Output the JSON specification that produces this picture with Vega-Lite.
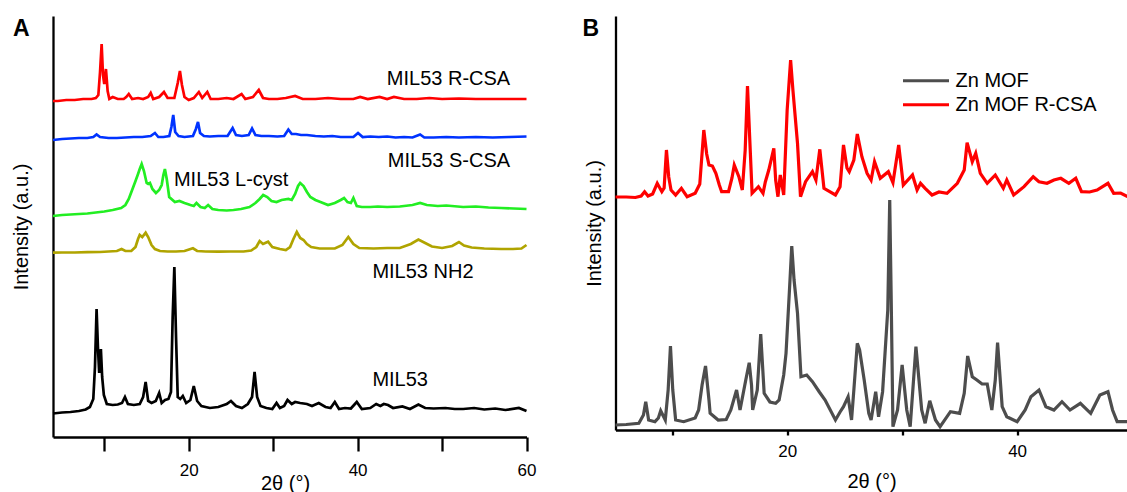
{
"$schema": "https://vega.github.io/schema/vega-lite/v6.json",
"padding": {"left": 11, "top": 16, "right": 0, "bottom": 0},
"background": "white",
"bounds": "flush",
"spacing": 88.5,
"resolve": {"scale": {"color": "independent", "x": "independent", "y": "independent"}, "legend": {"color": "independent"}},
"config": {"font": "Liberation Sans", "view": {"stroke": null},
  "axis": {"grid": false, "domainColor": "black", "domainWidth": 2.3, "tickColor": "black", "tickWidth": 2.3, "labelColor": "black", "titleColor": "black", "labelFont": "Liberation Sans", "titleFont": "Liberation Sans", "titleFontWeight": "normal", "labelFontSize": 17, "titleFontSize": 20}},
"datasets": {
"a": [
{"s":"MIL53 R-CSA","x":3.93,"y":336},{"s":"MIL53 R-CSA","x":4.5,"y":336},{"s":"MIL53 R-CSA","x":5.5,"y":337},{"s":"MIL53 R-CSA","x":6.5,"y":337},{"s":"MIL53 R-CSA","x":7.5,"y":338},{"s":"MIL53 R-CSA","x":8.5,"y":338},{"s":"MIL53 R-CSA","x":9.0,"y":339},{"s":"MIL53 R-CSA","x":9.3,"y":342},{"s":"MIL53 R-CSA","x":9.5,"y":365},{"s":"MIL53 R-CSA","x":9.69,"y":393},{"s":"MIL53 R-CSA","x":9.85,"y":362},{"s":"MIL53 R-CSA","x":10.0,"y":353},{"s":"MIL53 R-CSA","x":10.2,"y":368},{"s":"MIL53 R-CSA","x":10.4,"y":346},{"s":"MIL53 R-CSA","x":10.6,"y":338},{"s":"MIL53 R-CSA","x":11.0,"y":340},{"s":"MIL53 R-CSA","x":11.6,"y":338},{"s":"MIL53 R-CSA","x":12.3,"y":338},{"s":"MIL53 R-CSA","x":12.6,"y":340},{"s":"MIL53 R-CSA","x":12.9,"y":343},{"s":"MIL53 R-CSA","x":13.3,"y":338},{"s":"MIL53 R-CSA","x":14.0,"y":339},{"s":"MIL53 R-CSA","x":14.6,"y":338},{"s":"MIL53 R-CSA","x":15.2,"y":340},{"s":"MIL53 R-CSA","x":15.5,"y":344},{"s":"MIL53 R-CSA","x":15.8,"y":338},{"s":"MIL53 R-CSA","x":16.5,"y":340},{"s":"MIL53 R-CSA","x":17.07,"y":345},{"s":"MIL53 R-CSA","x":17.5,"y":339},{"s":"MIL53 R-CSA","x":18.3,"y":339},{"s":"MIL53 R-CSA","x":18.7,"y":354},{"s":"MIL53 R-CSA","x":18.96,"y":366},{"s":"MIL53 R-CSA","x":19.2,"y":352},{"s":"MIL53 R-CSA","x":19.5,"y":340},{"s":"MIL53 R-CSA","x":20.0,"y":337},{"s":"MIL53 R-CSA","x":20.6,"y":339},{"s":"MIL53 R-CSA","x":21.2,"y":345},{"s":"MIL53 R-CSA","x":21.6,"y":339},{"s":"MIL53 R-CSA","x":22.2,"y":345},{"s":"MIL53 R-CSA","x":22.6,"y":338},{"s":"MIL53 R-CSA","x":23.5,"y":338},{"s":"MIL53 R-CSA","x":24.5,"y":339},{"s":"MIL53 R-CSA","x":25.3,"y":338},{"s":"MIL53 R-CSA","x":26.26,"y":343},{"s":"MIL53 R-CSA","x":26.7,"y":338},{"s":"MIL53 R-CSA","x":27.6,"y":340},{"s":"MIL53 R-CSA","x":28.3,"y":347},{"s":"MIL53 R-CSA","x":28.8,"y":339},{"s":"MIL53 R-CSA","x":29.5,"y":338},{"s":"MIL53 R-CSA","x":30.5,"y":338},{"s":"MIL53 R-CSA","x":31.5,"y":339},{"s":"MIL53 R-CSA","x":32.6,"y":341},{"s":"MIL53 R-CSA","x":33.5,"y":338},{"s":"MIL53 R-CSA","x":35,"y":338},{"s":"MIL53 R-CSA","x":36.5,"y":339},{"s":"MIL53 R-CSA","x":38,"y":338},{"s":"MIL53 R-CSA","x":39.5,"y":338},{"s":"MIL53 R-CSA","x":40.3,"y":340},{"s":"MIL53 R-CSA","x":41.2,"y":338},{"s":"MIL53 R-CSA","x":42.6,"y":340},{"s":"MIL53 R-CSA","x":43.5,"y":338},{"s":"MIL53 R-CSA","x":44.3,"y":340},{"s":"MIL53 R-CSA","x":45.5,"y":338},{"s":"MIL53 R-CSA","x":47,"y":338},{"s":"MIL53 R-CSA","x":48.5,"y":339},{"s":"MIL53 R-CSA","x":50,"y":338},{"s":"MIL53 R-CSA","x":52,"y":338.5},{"s":"MIL53 R-CSA","x":54,"y":338},{"s":"MIL53 R-CSA","x":56,"y":338},{"s":"MIL53 R-CSA","x":58,"y":338},{"s":"MIL53 R-CSA","x":60,"y":338},
{"s":"MIL53 S-CSA","x":3.93,"y":297},{"s":"MIL53 S-CSA","x":5,"y":298},{"s":"MIL53 S-CSA","x":6,"y":298.5},{"s":"MIL53 S-CSA","x":7,"y":299},{"s":"MIL53 S-CSA","x":8,"y":299},{"s":"MIL53 S-CSA","x":8.7,"y":300},{"s":"MIL53 S-CSA","x":9.09,"y":302.5},{"s":"MIL53 S-CSA","x":9.5,"y":300},{"s":"MIL53 S-CSA","x":10.5,"y":299},{"s":"MIL53 S-CSA","x":11.5,"y":299},{"s":"MIL53 S-CSA","x":12.5,"y":299.5},{"s":"MIL53 S-CSA","x":13.5,"y":300},{"s":"MIL53 S-CSA","x":14.5,"y":300},{"s":"MIL53 S-CSA","x":15.5,"y":301},{"s":"MIL53 S-CSA","x":16.0,"y":304},{"s":"MIL53 S-CSA","x":16.4,"y":300},{"s":"MIL53 S-CSA","x":17.0,"y":300},{"s":"MIL53 S-CSA","x":17.7,"y":301},{"s":"MIL53 S-CSA","x":17.95,"y":310},{"s":"MIL53 S-CSA","x":18.17,"y":322},{"s":"MIL53 S-CSA","x":18.4,"y":305},{"s":"MIL53 S-CSA","x":18.8,"y":301},{"s":"MIL53 S-CSA","x":19.5,"y":300},{"s":"MIL53 S-CSA","x":20.5,"y":301},{"s":"MIL53 S-CSA","x":20.85,"y":308},{"s":"MIL53 S-CSA","x":21.1,"y":315},{"s":"MIL53 S-CSA","x":21.35,"y":304},{"s":"MIL53 S-CSA","x":21.8,"y":301},{"s":"MIL53 S-CSA","x":22.5,"y":300.5},{"s":"MIL53 S-CSA","x":23.5,"y":301},{"s":"MIL53 S-CSA","x":24.6,"y":301},{"s":"MIL53 S-CSA","x":25.2,"y":309},{"s":"MIL53 S-CSA","x":25.6,"y":302},{"s":"MIL53 S-CSA","x":26.3,"y":301},{"s":"MIL53 S-CSA","x":27.1,"y":302},{"s":"MIL53 S-CSA","x":27.5,"y":308.5},{"s":"MIL53 S-CSA","x":27.9,"y":302},{"s":"MIL53 S-CSA","x":28.6,"y":301},{"s":"MIL53 S-CSA","x":29.5,"y":301},{"s":"MIL53 S-CSA","x":30.5,"y":300.5},{"s":"MIL53 S-CSA","x":31.3,"y":301},{"s":"MIL53 S-CSA","x":31.8,"y":307.5},{"s":"MIL53 S-CSA","x":32.2,"y":303},{"s":"MIL53 S-CSA","x":32.7,"y":303},{"s":"MIL53 S-CSA","x":33.3,"y":302},{"s":"MIL53 S-CSA","x":34,"y":302},{"s":"MIL53 S-CSA","x":35,"y":301},{"s":"MIL53 S-CSA","x":36,"y":300.5},{"s":"MIL53 S-CSA","x":37,"y":301},{"s":"MIL53 S-CSA","x":38,"y":300},{"s":"MIL53 S-CSA","x":39.5,"y":300},{"s":"MIL53 S-CSA","x":40.05,"y":304},{"s":"MIL53 S-CSA","x":40.6,"y":300},{"s":"MIL53 S-CSA","x":41.5,"y":300.5},{"s":"MIL53 S-CSA","x":42.5,"y":300},{"s":"MIL53 S-CSA","x":43.5,"y":300.5},{"s":"MIL53 S-CSA","x":44.5,"y":299.5},{"s":"MIL53 S-CSA","x":45.5,"y":300},{"s":"MIL53 S-CSA","x":46.5,"y":299.5},{"s":"MIL53 S-CSA","x":47.4,"y":302.5},{"s":"MIL53 S-CSA","x":47.9,"y":299.5},{"s":"MIL53 S-CSA","x":49,"y":299.5},{"s":"MIL53 S-CSA","x":50.5,"y":300},{"s":"MIL53 S-CSA","x":52,"y":299.5},{"s":"MIL53 S-CSA","x":54,"y":300},{"s":"MIL53 S-CSA","x":56,"y":299.5},{"s":"MIL53 S-CSA","x":58,"y":300},{"s":"MIL53 S-CSA","x":60,"y":300.5},
{"s":"MIL53 L-cyst","x":3.93,"y":221},{"s":"MIL53 L-cyst","x":5,"y":222},{"s":"MIL53 L-cyst","x":6,"y":222.5},{"s":"MIL53 L-cyst","x":7,"y":223},{"s":"MIL53 L-cyst","x":8,"y":223.5},{"s":"MIL53 L-cyst","x":9,"y":224.5},{"s":"MIL53 L-cyst","x":10,"y":225.5},{"s":"MIL53 L-cyst","x":11,"y":227},{"s":"MIL53 L-cyst","x":12,"y":229},{"s":"MIL53 L-cyst","x":12.5,"y":232},{"s":"MIL53 L-cyst","x":12.9,"y":238},{"s":"MIL53 L-cyst","x":13.3,"y":247},{"s":"MIL53 L-cyst","x":13.7,"y":256},{"s":"MIL53 L-cyst","x":14.0,"y":263},{"s":"MIL53 L-cyst","x":14.2,"y":268},{"s":"MIL53 L-cyst","x":14.43,"y":273},{"s":"MIL53 L-cyst","x":14.7,"y":266},{"s":"MIL53 L-cyst","x":15.02,"y":254},{"s":"MIL53 L-cyst","x":15.2,"y":253},{"s":"MIL53 L-cyst","x":15.41,"y":254},{"s":"MIL53 L-cyst","x":15.7,"y":248},{"s":"MIL53 L-cyst","x":16.12,"y":244},{"s":"MIL53 L-cyst","x":16.5,"y":247},{"s":"MIL53 L-cyst","x":16.8,"y":252},{"s":"MIL53 L-cyst","x":17.0,"y":262},{"s":"MIL53 L-cyst","x":17.18,"y":268},{"s":"MIL53 L-cyst","x":17.4,"y":258},{"s":"MIL53 L-cyst","x":17.69,"y":240},{"s":"MIL53 L-cyst","x":18.36,"y":235},{"s":"MIL53 L-cyst","x":18.9,"y":236},{"s":"MIL53 L-cyst","x":19.5,"y":234},{"s":"MIL53 L-cyst","x":20.2,"y":232},{"s":"MIL53 L-cyst","x":20.6,"y":231},{"s":"MIL53 L-cyst","x":20.92,"y":234},{"s":"MIL53 L-cyst","x":21.4,"y":230},{"s":"MIL53 L-cyst","x":21.9,"y":229},{"s":"MIL53 L-cyst","x":22.3,"y":232},{"s":"MIL53 L-cyst","x":22.8,"y":228},{"s":"MIL53 L-cyst","x":23.5,"y":227},{"s":"MIL53 L-cyst","x":24.5,"y":226.5},{"s":"MIL53 L-cyst","x":25.3,"y":227},{"s":"MIL53 L-cyst","x":26.2,"y":228},{"s":"MIL53 L-cyst","x":27.2,"y":230},{"s":"MIL53 L-cyst","x":27.9,"y":234},{"s":"MIL53 L-cyst","x":28.4,"y":238},{"s":"MIL53 L-cyst","x":28.82,"y":242},{"s":"MIL53 L-cyst","x":29.3,"y":240},{"s":"MIL53 L-cyst","x":29.8,"y":236},{"s":"MIL53 L-cyst","x":30.4,"y":235},{"s":"MIL53 L-cyst","x":31.0,"y":237},{"s":"MIL53 L-cyst","x":31.8,"y":238},{"s":"MIL53 L-cyst","x":32.2,"y":237},{"s":"MIL53 L-cyst","x":32.6,"y":243},{"s":"MIL53 L-cyst","x":32.95,"y":251},{"s":"MIL53 L-cyst","x":33.2,"y":254},{"s":"MIL53 L-cyst","x":33.6,"y":251},{"s":"MIL53 L-cyst","x":34.0,"y":245},{"s":"MIL53 L-cyst","x":34.4,"y":240},{"s":"MIL53 L-cyst","x":35.0,"y":237},{"s":"MIL53 L-cyst","x":35.6,"y":235},{"s":"MIL53 L-cyst","x":36.5,"y":232},{"s":"MIL53 L-cyst","x":37.3,"y":234},{"s":"MIL53 L-cyst","x":38.0,"y":237},{"s":"MIL53 L-cyst","x":38.4,"y":239},{"s":"MIL53 L-cyst","x":38.8,"y":235},{"s":"MIL53 L-cyst","x":39.2,"y":234},{"s":"MIL53 L-cyst","x":39.5,"y":239},{"s":"MIL53 L-cyst","x":39.9,"y":231},{"s":"MIL53 L-cyst","x":40.5,"y":230},{"s":"MIL53 L-cyst","x":41.5,"y":230},{"s":"MIL53 L-cyst","x":42.4,"y":230.5},{"s":"MIL53 L-cyst","x":43.5,"y":230},{"s":"MIL53 L-cyst","x":45,"y":230.5},{"s":"MIL53 L-cyst","x":46.5,"y":232},{"s":"MIL53 L-cyst","x":47.4,"y":234},{"s":"MIL53 L-cyst","x":48.2,"y":232},{"s":"MIL53 L-cyst","x":49.5,"y":231},{"s":"MIL53 L-cyst","x":50.5,"y":231.5},{"s":"MIL53 L-cyst","x":52.5,"y":230},{"s":"MIL53 L-cyst","x":54,"y":230.5},{"s":"MIL53 L-cyst","x":55.5,"y":229.5},{"s":"MIL53 L-cyst","x":57,"y":229},{"s":"MIL53 L-cyst","x":58.5,"y":228.5},{"s":"MIL53 L-cyst","x":60,"y":228},
{"s":"MIL53 NH2","x":3.93,"y":184.3},{"s":"MIL53 NH2","x":5,"y":184.5},{"s":"MIL53 NH2","x":6.5,"y":184.5},{"s":"MIL53 NH2","x":8,"y":184.8},{"s":"MIL53 NH2","x":9.5,"y":185},{"s":"MIL53 NH2","x":10.5,"y":185.5},{"s":"MIL53 NH2","x":11.5,"y":186},{"s":"MIL53 NH2","x":12.05,"y":188},{"s":"MIL53 NH2","x":12.5,"y":186},{"s":"MIL53 NH2","x":13.2,"y":186},{"s":"MIL53 NH2","x":13.7,"y":190},{"s":"MIL53 NH2","x":14.0,"y":198},{"s":"MIL53 NH2","x":14.2,"y":202},{"s":"MIL53 NH2","x":14.5,"y":200},{"s":"MIL53 NH2","x":14.9,"y":204.3},{"s":"MIL53 NH2","x":15.2,"y":200},{"s":"MIL53 NH2","x":15.6,"y":192},{"s":"MIL53 NH2","x":16.0,"y":188},{"s":"MIL53 NH2","x":16.6,"y":186},{"s":"MIL53 NH2","x":17.5,"y":185.5},{"s":"MIL53 NH2","x":18.5,"y":185.5},{"s":"MIL53 NH2","x":19.5,"y":186},{"s":"MIL53 NH2","x":20.5,"y":188.7},{"s":"MIL53 NH2","x":21.0,"y":186},{"s":"MIL53 NH2","x":22,"y":185.5},{"s":"MIL53 NH2","x":23.5,"y":185.3},{"s":"MIL53 NH2","x":25,"y":185.5},{"s":"MIL53 NH2","x":26.5,"y":185.5},{"s":"MIL53 NH2","x":27.4,"y":186.5},{"s":"MIL53 NH2","x":28.0,"y":190},{"s":"MIL53 NH2","x":28.4,"y":196},{"s":"MIL53 NH2","x":28.8,"y":193},{"s":"MIL53 NH2","x":29.4,"y":195.3},{"s":"MIL53 NH2","x":29.9,"y":190},{"s":"MIL53 NH2","x":30.8,"y":188},{"s":"MIL53 NH2","x":31.5,"y":187},{"s":"MIL53 NH2","x":32.0,"y":190},{"s":"MIL53 NH2","x":32.4,"y":198},{"s":"MIL53 NH2","x":32.8,"y":205},{"s":"MIL53 NH2","x":33.2,"y":199},{"s":"MIL53 NH2","x":33.6,"y":197},{"s":"MIL53 NH2","x":34.0,"y":193},{"s":"MIL53 NH2","x":34.5,"y":190},{"s":"MIL53 NH2","x":35.5,"y":188.5},{"s":"MIL53 NH2","x":37.3,"y":188.5},{"s":"MIL53 NH2","x":38.2,"y":192},{"s":"MIL53 NH2","x":38.9,"y":200},{"s":"MIL53 NH2","x":39.5,"y":193},{"s":"MIL53 NH2","x":40.2,"y":189},{"s":"MIL53 NH2","x":41.9,"y":188.5},{"s":"MIL53 NH2","x":43.5,"y":189},{"s":"MIL53 NH2","x":45,"y":189},{"s":"MIL53 NH2","x":46.3,"y":193},{"s":"MIL53 NH2","x":47.2,"y":197.5},{"s":"MIL53 NH2","x":48,"y":194},{"s":"MIL53 NH2","x":48.8,"y":190.5},{"s":"MIL53 NH2","x":50,"y":189},{"s":"MIL53 NH2","x":51.2,"y":191},{"s":"MIL53 NH2","x":52.0,"y":195},{"s":"MIL53 NH2","x":52.6,"y":191.5},{"s":"MIL53 NH2","x":53.5,"y":189.5},{"s":"MIL53 NH2","x":55,"y":188.5},{"s":"MIL53 NH2","x":57,"y":188},{"s":"MIL53 NH2","x":58.4,"y":188},{"s":"MIL53 NH2","x":59.4,"y":188.5},{"s":"MIL53 NH2","x":60,"y":192},
{"s":"MIL53","x":3.93,"y":23.5},{"s":"MIL53","x":5,"y":24.5},{"s":"MIL53","x":6,"y":25},{"s":"MIL53","x":7,"y":26},{"s":"MIL53","x":7.8,"y":27.5},{"s":"MIL53","x":8.3,"y":30},{"s":"MIL53","x":8.7,"y":38},{"s":"MIL53","x":8.9,"y":70},{"s":"MIL53","x":9.09,"y":128},{"s":"MIL53","x":9.25,"y":90},{"s":"MIL53","x":9.4,"y":64},{"s":"MIL53","x":9.6,"y":88},{"s":"MIL53","x":9.75,"y":60},{"s":"MIL53","x":9.95,"y":42},{"s":"MIL53","x":10.3,"y":33},{"s":"MIL53","x":11.0,"y":32},{"s":"MIL53","x":11.6,"y":32.5},{"s":"MIL53","x":12.1,"y":34},{"s":"MIL53","x":12.45,"y":40},{"s":"MIL53","x":12.8,"y":33},{"s":"MIL53","x":13.5,"y":32},{"s":"MIL53","x":14.2,"y":33},{"s":"MIL53","x":14.6,"y":40},{"s":"MIL53","x":14.9,"y":55},{"s":"MIL53","x":15.2,"y":36},{"s":"MIL53","x":15.6,"y":34},{"s":"MIL53","x":16.1,"y":36},{"s":"MIL53","x":16.5,"y":44},{"s":"MIL53","x":16.8,"y":34},{"s":"MIL53","x":17.2,"y":37},{"s":"MIL53","x":17.6,"y":38},{"s":"MIL53","x":17.9,"y":45},{"s":"MIL53","x":18.1,"y":120},{"s":"MIL53","x":18.3,"y":170},{"s":"MIL53","x":18.5,"y":100},{"s":"MIL53","x":18.7,"y":40},{"s":"MIL53","x":19.0,"y":38},{"s":"MIL53","x":19.3,"y":41},{"s":"MIL53","x":19.7,"y":34},{"s":"MIL53","x":20.2,"y":37},{"s":"MIL53","x":20.6,"y":51},{"s":"MIL53","x":21.0,"y":36},{"s":"MIL53","x":21.5,"y":31},{"s":"MIL53","x":22.5,"y":29},{"s":"MIL53","x":23.5,"y":30},{"s":"MIL53","x":24.5,"y":33},{"s":"MIL53","x":25.0,"y":36},{"s":"MIL53","x":25.6,"y":31},{"s":"MIL53","x":26.3,"y":29},{"s":"MIL53","x":27.0,"y":33},{"s":"MIL53","x":27.5,"y":40},{"s":"MIL53","x":27.8,"y":65},{"s":"MIL53","x":28.1,"y":40},{"s":"MIL53","x":28.5,"y":31},{"s":"MIL53","x":29.2,"y":29},{"s":"MIL53","x":29.9,"y":28},{"s":"MIL53","x":30.4,"y":34},{"s":"MIL53","x":30.8,"y":29},{"s":"MIL53","x":31.3,"y":31},{"s":"MIL53","x":31.7,"y":37},{"s":"MIL53","x":32.2,"y":33},{"s":"MIL53","x":32.6,"y":35},{"s":"MIL53","x":33.2,"y":34},{"s":"MIL53","x":34,"y":33},{"s":"MIL53","x":34.6,"y":31},{"s":"MIL53","x":35.4,"y":34},{"s":"MIL53","x":36.2,"y":30},{"s":"MIL53","x":36.8,"y":29},{"s":"MIL53","x":37.3,"y":35},{"s":"MIL53","x":37.8,"y":28},{"s":"MIL53","x":38.5,"y":29},{"s":"MIL53","x":39.2,"y":28.5},{"s":"MIL53","x":39.9,"y":35},{"s":"MIL53","x":40.5,"y":28},{"s":"MIL53","x":41.5,"y":29},{"s":"MIL53","x":42.2,"y":33},{"s":"MIL53","x":42.7,"y":31},{"s":"MIL53","x":43.1,"y":33},{"s":"MIL53","x":43.6,"y":32},{"s":"MIL53","x":44.2,"y":29},{"s":"MIL53","x":45.3,"y":30.5},{"s":"MIL53","x":46.2,"y":28},{"s":"MIL53","x":47.2,"y":32.5},{"s":"MIL53","x":48,"y":29},{"s":"MIL53","x":49,"y":28.5},{"s":"MIL53","x":50.4,"y":29},{"s":"MIL53","x":51.5,"y":28},{"s":"MIL53","x":52.5,"y":28},{"s":"MIL53","x":53.8,"y":29},{"s":"MIL53","x":55,"y":27.5},{"s":"MIL53","x":56.3,"y":28.5},{"s":"MIL53","x":57.5,"y":27},{"s":"MIL53","x":59.1,"y":29},{"s":"MIL53","x":60,"y":26}
],
"b": [
{"s":"Zn MOF R-CSA","x":5.07,"y":233},{"s":"Zn MOF R-CSA","x":6.0,"y":233},{"s":"Zn MOF R-CSA","x":6.8,"y":232.5},{"s":"Zn MOF R-CSA","x":7.3,"y":234},{"s":"Zn MOF R-CSA","x":7.6,"y":238.3},{"s":"Zn MOF R-CSA","x":7.9,"y":234},{"s":"Zn MOF R-CSA","x":8.3,"y":236},{"s":"Zn MOF R-CSA","x":8.7,"y":246.7},{"s":"Zn MOF R-CSA","x":9.1,"y":238.3},{"s":"Zn MOF R-CSA","x":9.3,"y":242},{"s":"Zn MOF R-CSA","x":9.5,"y":280},{"s":"Zn MOF R-CSA","x":9.7,"y":253},{"s":"Zn MOF R-CSA","x":9.9,"y":240},{"s":"Zn MOF R-CSA","x":10.3,"y":235},{"s":"Zn MOF R-CSA","x":10.8,"y":241.7},{"s":"Zn MOF R-CSA","x":11.3,"y":233.3},{"s":"Zn MOF R-CSA","x":12.0,"y":236.7},{"s":"Zn MOF R-CSA","x":12.4,"y":246},{"s":"Zn MOF R-CSA","x":12.75,"y":300},{"s":"Zn MOF R-CSA","x":13.0,"y":276},{"s":"Zn MOF R-CSA","x":13.2,"y":265},{"s":"Zn MOF R-CSA","x":13.5,"y":264},{"s":"Zn MOF R-CSA","x":13.8,"y":256.7},{"s":"Zn MOF R-CSA","x":14.1,"y":245},{"s":"Zn MOF R-CSA","x":14.3,"y":238.3},{"s":"Zn MOF R-CSA","x":14.9,"y":238.3},{"s":"Zn MOF R-CSA","x":15.2,"y":252},{"s":"Zn MOF R-CSA","x":15.4,"y":265},{"s":"Zn MOF R-CSA","x":15.8,"y":253.3},{"s":"Zn MOF R-CSA","x":16.1,"y":240},{"s":"Zn MOF R-CSA","x":16.35,"y":280},{"s":"Zn MOF R-CSA","x":16.55,"y":344},{"s":"Zn MOF R-CSA","x":16.75,"y":290},{"s":"Zn MOF R-CSA","x":16.95,"y":236.7},{"s":"Zn MOF R-CSA","x":17.5,"y":243.3},{"s":"Zn MOF R-CSA","x":17.9,"y":236.7},{"s":"Zn MOF R-CSA","x":18.1,"y":248},{"s":"Zn MOF R-CSA","x":18.4,"y":260},{"s":"Zn MOF R-CSA","x":18.84,"y":281.7},{"s":"Zn MOF R-CSA","x":19.0,"y":250},{"s":"Zn MOF R-CSA","x":19.2,"y":233.3},{"s":"Zn MOF R-CSA","x":19.4,"y":255},{"s":"Zn MOF R-CSA","x":19.7,"y":235},{"s":"Zn MOF R-CSA","x":20.0,"y":320},{"s":"Zn MOF R-CSA","x":20.3,"y":370},{"s":"Zn MOF R-CSA","x":20.5,"y":340},{"s":"Zn MOF R-CSA","x":20.9,"y":286.7},{"s":"Zn MOF R-CSA","x":21.16,"y":233.3},{"s":"Zn MOF R-CSA","x":21.6,"y":248.3},{"s":"Zn MOF R-CSA","x":22.2,"y":258.3},{"s":"Zn MOF R-CSA","x":22.5,"y":250},{"s":"Zn MOF R-CSA","x":22.84,"y":280.7},{"s":"Zn MOF R-CSA","x":23.2,"y":241.7},{"s":"Zn MOF R-CSA","x":23.7,"y":238.3},{"s":"Zn MOF R-CSA","x":24.2,"y":235},{"s":"Zn MOF R-CSA","x":24.6,"y":243.3},{"s":"Zn MOF R-CSA","x":24.9,"y":285},{"s":"Zn MOF R-CSA","x":25.2,"y":262},{"s":"Zn MOF R-CSA","x":25.4,"y":258.3},{"s":"Zn MOF R-CSA","x":25.8,"y":270},{"s":"Zn MOF R-CSA","x":26.1,"y":296},{"s":"Zn MOF R-CSA","x":26.5,"y":273.3},{"s":"Zn MOF R-CSA","x":26.95,"y":256.7},{"s":"Zn MOF R-CSA","x":27.3,"y":250},{"s":"Zn MOF R-CSA","x":27.6,"y":268.3},{"s":"Zn MOF R-CSA","x":28.1,"y":251.7},{"s":"Zn MOF R-CSA","x":28.8,"y":258.3},{"s":"Zn MOF R-CSA","x":29.2,"y":247.3},{"s":"Zn MOF R-CSA","x":29.7,"y":285},{"s":"Zn MOF R-CSA","x":30.1,"y":245},{"s":"Zn MOF R-CSA","x":30.9,"y":255},{"s":"Zn MOF R-CSA","x":31.3,"y":240},{"s":"Zn MOF R-CSA","x":31.6,"y":246.7},{"s":"Zn MOF R-CSA","x":32.0,"y":241.7},{"s":"Zn MOF R-CSA","x":32.6,"y":235},{"s":"Zn MOF R-CSA","x":33.2,"y":238},{"s":"Zn MOF R-CSA","x":33.9,"y":236.7},{"s":"Zn MOF R-CSA","x":34.8,"y":246.7},{"s":"Zn MOF R-CSA","x":35.4,"y":260},{"s":"Zn MOF R-CSA","x":35.65,"y":287.3},{"s":"Zn MOF R-CSA","x":36.1,"y":268.3},{"s":"Zn MOF R-CSA","x":36.4,"y":276.7},{"s":"Zn MOF R-CSA","x":36.8,"y":256.7},{"s":"Zn MOF R-CSA","x":37.4,"y":246.7},{"s":"Zn MOF R-CSA","x":38.1,"y":255},{"s":"Zn MOF R-CSA","x":38.8,"y":241.7},{"s":"Zn MOF R-CSA","x":39.1,"y":250},{"s":"Zn MOF R-CSA","x":39.7,"y":235},{"s":"Zn MOF R-CSA","x":40.6,"y":243.3},{"s":"Zn MOF R-CSA","x":41.4,"y":253.3},{"s":"Zn MOF R-CSA","x":41.9,"y":248.3},{"s":"Zn MOF R-CSA","x":42.6,"y":246.7},{"s":"Zn MOF R-CSA","x":43.2,"y":250},{"s":"Zn MOF R-CSA","x":43.8,"y":251.7},{"s":"Zn MOF R-CSA","x":44.5,"y":246.7},{"s":"Zn MOF R-CSA","x":45.1,"y":251.7},{"s":"Zn MOF R-CSA","x":45.6,"y":238.3},{"s":"Zn MOF R-CSA","x":46.3,"y":238},{"s":"Zn MOF R-CSA","x":46.95,"y":240},{"s":"Zn MOF R-CSA","x":47.9,"y":246.7},{"s":"Zn MOF R-CSA","x":48.4,"y":236.7},{"s":"Zn MOF R-CSA","x":49.0,"y":237},{"s":"Zn MOF R-CSA","x":49.6,"y":233.3},
{"s":"Zn MOF","x":5.07,"y":5},{"s":"Zn MOF","x":6.0,"y":5.5},{"s":"Zn MOF","x":7.1,"y":6.7},{"s":"Zn MOF","x":7.5,"y":15},{"s":"Zn MOF","x":7.7,"y":28.3},{"s":"Zn MOF","x":7.95,"y":10},{"s":"Zn MOF","x":8.5,"y":8.3},{"s":"Zn MOF","x":8.8,"y":12},{"s":"Zn MOF","x":9.0,"y":19.3},{"s":"Zn MOF","x":9.4,"y":10},{"s":"Zn MOF","x":9.65,"y":40},{"s":"Zn MOF","x":9.85,"y":84},{"s":"Zn MOF","x":10.05,"y":40},{"s":"Zn MOF","x":10.3,"y":10},{"s":"Zn MOF","x":11.0,"y":8.3},{"s":"Zn MOF","x":12.0,"y":12},{"s":"Zn MOF","x":12.3,"y":20},{"s":"Zn MOF","x":12.6,"y":45},{"s":"Zn MOF","x":12.9,"y":64},{"s":"Zn MOF","x":13.2,"y":30},{"s":"Zn MOF","x":13.3,"y":16.7},{"s":"Zn MOF","x":14.0,"y":10},{"s":"Zn MOF","x":14.7,"y":10.5},{"s":"Zn MOF","x":15.1,"y":20},{"s":"Zn MOF","x":15.6,"y":40},{"s":"Zn MOF","x":15.9,"y":20},{"s":"Zn MOF","x":16.4,"y":50},{"s":"Zn MOF","x":16.7,"y":67.3},{"s":"Zn MOF","x":16.9,"y":45},{"s":"Zn MOF","x":17.0,"y":20},{"s":"Zn MOF","x":17.4,"y":40},{"s":"Zn MOF","x":17.7,"y":96},{"s":"Zn MOF","x":18.0,"y":36.7},{"s":"Zn MOF","x":18.5,"y":28},{"s":"Zn MOF","x":19.0,"y":26.7},{"s":"Zn MOF","x":19.3,"y":30},{"s":"Zn MOF","x":19.7,"y":55},{"s":"Zn MOF","x":19.9,"y":76.7},{"s":"Zn MOF","x":20.2,"y":140},{"s":"Zn MOF","x":20.4,"y":184},{"s":"Zn MOF","x":20.6,"y":150},{"s":"Zn MOF","x":20.9,"y":116.7},{"s":"Zn MOF","x":21.2,"y":53.3},{"s":"Zn MOF","x":21.7,"y":55},{"s":"Zn MOF","x":22.2,"y":48.3},{"s":"Zn MOF","x":22.8,"y":38},{"s":"Zn MOF","x":23.3,"y":30},{"s":"Zn MOF","x":24.2,"y":10},{"s":"Zn MOF","x":24.6,"y":18},{"s":"Zn MOF","x":24.9,"y":23.3},{"s":"Zn MOF","x":25.3,"y":33.3},{"s":"Zn MOF","x":25.6,"y":10},{"s":"Zn MOF","x":25.8,"y":40},{"s":"Zn MOF","x":26.1,"y":86.7},{"s":"Zn MOF","x":26.3,"y":80},{"s":"Zn MOF","x":26.7,"y":50},{"s":"Zn MOF","x":27.1,"y":16.7},{"s":"Zn MOF","x":27.3,"y":10},{"s":"Zn MOF","x":27.7,"y":38.3},{"s":"Zn MOF","x":27.95,"y":13.3},{"s":"Zn MOF","x":28.3,"y":38.3},{"s":"Zn MOF","x":28.75,"y":120},{"s":"Zn MOF","x":28.92,"y":230},{"s":"Zn MOF","x":29.05,"y":130},{"s":"Zn MOF","x":29.2,"y":3.3},{"s":"Zn MOF","x":29.6,"y":20},{"s":"Zn MOF","x":30.0,"y":65},{"s":"Zn MOF","x":30.4,"y":20},{"s":"Zn MOF","x":30.7,"y":3.3},{"s":"Zn MOF","x":31.2,"y":83.3},{"s":"Zn MOF","x":31.7,"y":20},{"s":"Zn MOF","x":32.0,"y":6.7},{"s":"Zn MOF","x":32.4,"y":29.3},{"s":"Zn MOF","x":32.9,"y":10},{"s":"Zn MOF","x":33.3,"y":3.3},{"s":"Zn MOF","x":34.2,"y":18.3},{"s":"Zn MOF","x":35.0,"y":16.7},{"s":"Zn MOF","x":35.4,"y":36.7},{"s":"Zn MOF","x":35.7,"y":74},{"s":"Zn MOF","x":36.1,"y":53.3},{"s":"Zn MOF","x":36.5,"y":50},{"s":"Zn MOF","x":36.95,"y":46},{"s":"Zn MOF","x":37.4,"y":46},{"s":"Zn MOF","x":37.8,"y":20},{"s":"Zn MOF","x":38.1,"y":50},{"s":"Zn MOF","x":38.3,"y":87.3},{"s":"Zn MOF","x":38.7,"y":23.3},{"s":"Zn MOF","x":39.1,"y":13.3},{"s":"Zn MOF","x":40.0,"y":8.3},{"s":"Zn MOF","x":40.7,"y":20},{"s":"Zn MOF","x":41.2,"y":33.3},{"s":"Zn MOF","x":41.9,"y":40},{"s":"Zn MOF","x":42.5,"y":23.3},{"s":"Zn MOF","x":43.2,"y":20},{"s":"Zn MOF","x":43.9,"y":28.3},{"s":"Zn MOF","x":44.6,"y":20},{"s":"Zn MOF","x":45.5,"y":26.7},{"s":"Zn MOF","x":46.4,"y":16.7},{"s":"Zn MOF","x":47.2,"y":35},{"s":"Zn MOF","x":47.9,"y":38.3},{"s":"Zn MOF","x":48.3,"y":20},{"s":"Zn MOF","x":48.7,"y":8.3},{"s":"Zn MOF","x":49.6,"y":8.3}
],
"ta": [
{"t":"MIL53 R-CSA","x":43.46,"y":352},{"t":"MIL53 S-CSA","x":43.58,"y":269.7},{"t":"MIL53 L-cyst","x":18.25,"y":251},{"t":"MIL53 NH2","x":41.75,"y":158.7},{"t":"MIL53","x":41.75,"y":51.3}
],
"la": [{"t":"A","x":-0.8,"y":401}],
"lb": [{"t":"B","x":2.2,"y":394}]
},
"hconcat": [
{"width": 473.5, "height": 421,
 "layer": [
  {"data": {"name": "a"}, "mark": {"type": "line", "strokeWidth": 2.7},
   "encoding": {
    "x": {"field": "x", "type": "quantitative", "scale": {"domain": [3.93, 60], "nice": false, "zero": false},
      "axis": {"values": [10, 20, 30, 40, 50, 60], "labelExpr": "datum.value % 20 === 0 ? datum.label : ''", "tickSize": 14, "labelPadding": 24, "labelBaseline": "alphabetic", "labelFlush": false, "title": "2θ (°)", "titleX": 232, "titleY": 52, "titleBaseline": "alphabetic"}},
    "y": {"field": "y", "type": "quantitative", "scale": {"domain": [0, 421], "nice": false, "zero": false},
      "axis": {"ticks": false, "labels": false, "title": "Intensity (a.u.)", "titleX": -26, "titleY": 210.5, "titleBaseline": "alphabetic", "titleAngle": -90}},
    "color": {"field": "s", "type": "nominal", "scale": {"domain": ["MIL53 R-CSA", "MIL53 S-CSA", "MIL53 L-cyst", "MIL53 NH2", "MIL53"], "range": ["#ff0000", "#0033ff", "#22ee22", "#b0a400", "#000000"]}, "legend": null}
   }},
  {"data": {"name": "ta"}, "mark": {"type": "text", "align": "left", "baseline": "alphabetic", "fontSize": 20, "color": "black"},
   "encoding": {"x": {"field": "x", "type": "quantitative"}, "y": {"field": "y", "type": "quantitative"}, "text": {"field": "t"}}},
  {"data": {"name": "la"}, "mark": {"type": "text", "align": "left", "baseline": "alphabetic", "fontSize": 23, "fontWeight": "bold", "color": "black"},
   "encoding": {"x": {"field": "x", "type": "quantitative"}, "y": {"field": "y", "type": "quantitative"}, "text": {"field": "t"}}}
 ]},
{"width": 512, "height": 414,
 "layer": [
  {"data": {"name": "b"}, "mark": {"type": "line", "strokeWidth": 3.2},
   "encoding": {
    "x": {"field": "x", "type": "quantitative", "scale": {"domain": [5.07, 49.6], "nice": false, "zero": false},
      "axis": {"values": [10, 20, 30, 40], "labelExpr": "datum.value % 20 === 0 ? datum.label : ''", "tickSize": 5, "labelPadding": 21, "labelBaseline": "alphabetic", "labelFlush": false, "title": "2θ (°)", "titleY": 57, "titleBaseline": "alphabetic"}},
    "y": {"field": "y", "type": "quantitative", "scale": {"domain": [0, 414], "nice": false, "zero": false},
      "axis": {"ticks": false, "labels": false, "title": "Intensity (a.u.)", "titleX": -15, "titleY": 207, "titleBaseline": "alphabetic", "titleAngle": -90}},
    "color": {"field": "s", "type": "nominal", "scale": {"domain": ["Zn MOF", "Zn MOF R-CSA"], "range": ["#4d4d4d", "#ff0000"]},
      "legend": {"title": null, "orient": "none", "legendX": 297.5, "legendY": 51.8, "symbolType": "M-2,0H2", "symbolSize": 529, "symbolStrokeWidth": 3, "labelFontSize": 20, "labelFont": "Liberation Sans", "labelColor": "black", "labelOffset": 16.5, "rowPadding": 1, "padding": 0}}
   }},
  {"data": {"name": "lb"}, "mark": {"type": "text", "align": "left", "baseline": "alphabetic", "fontSize": 23, "fontWeight": "bold", "color": "black"},
   "encoding": {"x": {"field": "x", "type": "quantitative"}, "y": {"field": "y", "type": "quantitative"}, "text": {"field": "t"}}}
 ]}
]
}
